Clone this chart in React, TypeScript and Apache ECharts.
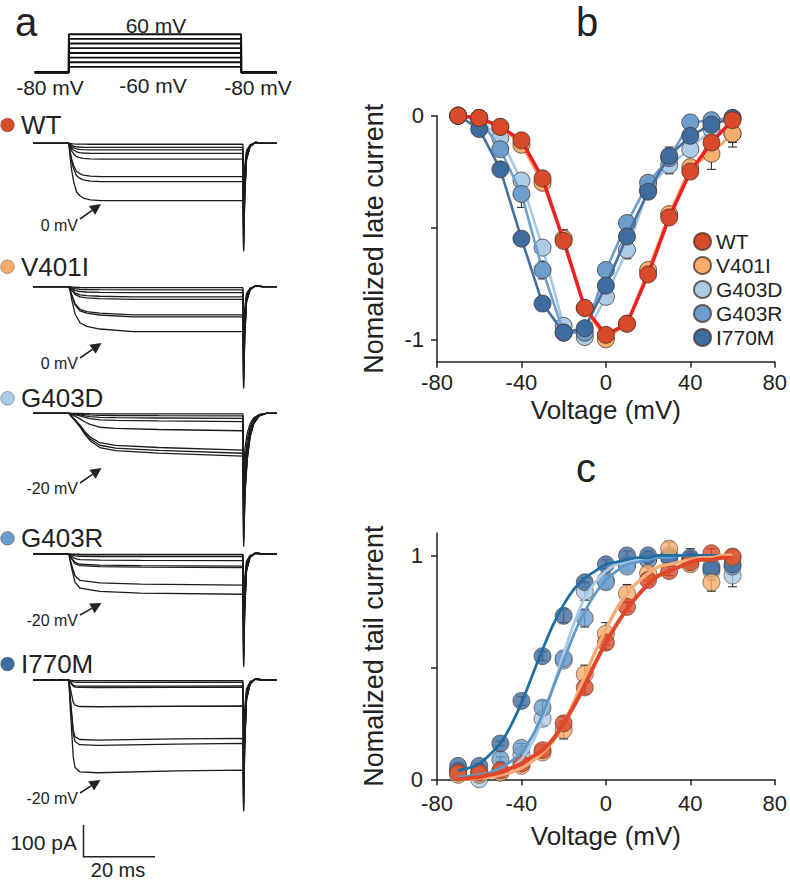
import React, { useEffect, useRef } from 'react';
import * as echarts from 'echarts';

const FONT = 'Liberation Sans, Arial, Helvetica, sans-serif';
const INK = '#222';

// ---------- panel b / c data ----------
const VOLTAGES = [-70, -60, -50, -40, -30, -20, -10, 0, 10, 20, 30, 40, 50, 60];
const NAMES = ['WT', 'V401I', 'G403D', 'G403R', 'I770M'];

const LATE_WT = [0, -0.01, -0.05, -0.11, -0.28, -0.56, -0.86, -0.98, -0.93, -0.71, -0.455, -0.25, -0.12, -0.02];
const LATE_V401I = [0, -0.01, -0.05, -0.13, -0.3, -0.55, -0.86, -1.0, -0.93, -0.69, -0.44, -0.23, -0.17, -0.08];
const LATE_G403D = [0, -0.02, -0.1, -0.29, -0.59, -0.94, -0.99, -0.81, -0.6, -0.33, -0.22, -0.15, -0.06, -0.08];
const LATE_G403R = [0, -0.01, -0.15, -0.35, -0.69, -0.97, -0.97, -0.69, -0.48, -0.3, -0.19, -0.03, -0.02, -0.01];
const LATE_I770M = [0, -0.06, -0.24, -0.55, -0.84, -0.97, -0.95, -0.76, -0.54, -0.34, -0.18, -0.09, -0.04, -0.01];

const LATE_ERR_WT = [0, 0.01, 0.03, 0.02, 0.03, 0.03, 0.03, 0.02, 0.02, 0.02, 0.03, 0.03, 0.03, 0.03];
const LATE_ERR_V401I = [0, 0.01, 0.02, 0.02, 0.03, 0.04, 0.03, 0.02, 0.02, 0.02, 0.03, 0.03, 0.07, 0.04];
const LATE_ERR_G403D = [0, 0.01, 0.03, 0.03, 0.03, 0.03, 0.02, 0.03, 0.04, 0.04, 0.04, 0.03, 0.02, 0.06];
const LATE_ERR_G403R = [0, 0.01, 0.03, 0.06, 0.04, 0.02, 0.02, 0.03, 0.03, 0.03, 0.03, 0.02, 0.02, 0.02];
const LATE_ERR_I770M = [0, 0.01, 0.03, 0.03, 0.03, 0.02, 0.02, 0.03, 0.03, 0.03, 0.04, 0.03, 0.02, 0.02];

const TAIL_WT = [0.03, 0.03, 0.04, 0.07, 0.13, 0.25, 0.41, 0.61, 0.77, 0.89, 0.93, 0.97, 1.01, 0.995];
const TAIL_V401I = [0.02, 0.02, 0.03, 0.06, 0.12, 0.22, 0.47, 0.65, 0.83, 0.92, 1.03, 0.96, 0.88, 0.99];
const TAIL_G403D = [0.03, 0.0, 0.03, 0.11, 0.27, 0.53, 0.84, 0.89, 0.96, 0.98, 0.99, 0.98, 0.93, 0.91];
const TAIL_G403R = [0.04, 0.03, 0.09, 0.14, 0.32, 0.54, 0.72, 0.88, 0.95, 0.98, 1.0, 0.98, 0.95, 0.95];
const TAIL_I770M = [0.06, 0.06, 0.16, 0.35, 0.55, 0.73, 0.88, 0.96, 1.0, 1.0, 0.99, 0.99, 0.94, 0.96];

const TAIL_ERR_WT = [0.01, 0.01, 0.01, 0.01, 0.02, 0.03, 0.03, 0.03, 0.02, 0.02, 0.02, 0.02, 0.02, 0.03];
const TAIL_ERR_V401I = [0.01, 0.01, 0.01, 0.01, 0.02, 0.04, 0.04, 0.05, 0.04, 0.03, 0.03, 0.03, 0.04, 0.03];
const TAIL_ERR_G403D = [0.01, 0.01, 0.01, 0.02, 0.03, 0.03, 0.04, 0.03, 0.02, 0.02, 0.02, 0.02, 0.04, 0.05];
const TAIL_ERR_G403R = [0.01, 0.01, 0.01, 0.02, 0.03, 0.03, 0.04, 0.03, 0.02, 0.02, 0.02, 0.02, 0.03, 0.03];
const TAIL_ERR_I770M = [0.01, 0.01, 0.01, 0.02, 0.02, 0.03, 0.02, 0.02, 0.02, 0.02, 0.02, 0.04, 0.03, 0.03];

const FIT_V = [-70, -65, -60, -55, -50, -45, -40, -35, -30, -25, -20, -15, -10, -5, 0, 5, 10, 15, 20, 25, 30, 35, 40, 45, 50, 55, 60];
const FIT_WT = [0.0, 0.005, 0.01, 0.02, 0.03, 0.05, 0.07, 0.1, 0.13, 0.18, 0.25, 0.33, 0.42, 0.52, 0.61, 0.69, 0.76, 0.82, 0.87, 0.91, 0.93, 0.95, 0.97, 0.98, 0.98, 0.99, 0.99];
const FIT_V401I = [0.0, 0.0, 0.005, 0.01, 0.02, 0.03, 0.05, 0.08, 0.12, 0.17, 0.25, 0.35, 0.46, 0.57, 0.67, 0.76, 0.83, 0.88, 0.92, 0.95, 0.96, 0.97, 0.98, 0.99, 0.99, 1.0, 1.0];
const FIT_G403D = [0.0, 0.005, 0.01, 0.02, 0.03, 0.05, 0.09, 0.16, 0.27, 0.41, 0.56, 0.7, 0.81, 0.88, 0.93, 0.96, 0.97, 0.98, 0.99, 0.99, 1.0, 1.0, 1.0, 1.0, 1.0, 1.0, 1.0];
const FIT_G403R = [0.01, 0.015, 0.02, 0.03, 0.05, 0.08, 0.12, 0.19, 0.29, 0.41, 0.53, 0.65, 0.75, 0.83, 0.89, 0.93, 0.96, 0.97, 0.98, 0.99, 0.99, 1.0, 1.0, 1.0, 1.0, 1.0, 1.0];
const FIT_I770M = [0.04, 0.05, 0.07, 0.11, 0.16, 0.24, 0.34, 0.46, 0.58, 0.69, 0.78, 0.85, 0.9, 0.93, 0.96, 0.97, 0.98, 0.99, 0.99, 1.0, 1.0, 1.0, 1.0, 1.0, 1.0, 1.0, 1.0];

const X_TICKS = [-80, -40, 0, 40, 80];
const LATE_TICKS = [-1, -0.5, 0];
const LATE_LABELS = [-1, 0];
const TAIL_TICKS = [0, 0.5, 1];
const TAIL_LABELS = [0, 1];

// ---------- panel a data ----------
const PROTOCOL_LEVELS = [60, 43, 26, 9, -9, -26, -43, -60];
const HOLDING = -80;
const PULSE_START = 0;
const PROTOCOL_END = 48;
const PULSE_END = 48.5;
const T_MIN = -10;
const T_MAX = 58;

const WT_LEVELS = [-3, -13, -21, -32, -50, -105, -121, -181];
const V401I_LEVELS = [-3, -10, -19, -32, -40, -89, -95, -142];
const G403D_LEVELS = [-2, -8, -16, -26, -55, -116, -126, -135];
const G403R_LEVELS = [-1, -3, -8.5, -21, -38, -43, -98, -127];
const I770M_LEVELS = [-2, -7, -19, -23, -82, -184, -200, -284];

const WT_TAILS = [-150, -200, -240, -270, -300, -320, -335, -341];
const V401I_TAILS = [-140, -190, -230, -260, -285, -300, -315, -321];
const G403D_TAILS = [-180, -240, -290, -330, -370, -395, -410, -421];
const G403R_TAILS = [-150, -200, -250, -290, -320, -335, -350, -356];
const I770M_TAILS = [-180, -240, -290, -330, -370, -395, -410, -415];

// activation time course [ms, fraction of late level]
const WT_ONSET = [[0.3, 0.22], [0.75, 0.46], [1.3, 0.66], [2.1, 0.84], [3, 0.91], [4, 0.955], [6, 0.985], [9, 1], [30, 1]];
const V401I_ONSET = [[0.4, 0.12], [0.75, 0.27], [1.7, 0.6], [3.1, 0.8], [5, 0.88], [8.6, 0.94], [18, 1]];
const G403D_ONSET = [[0.75, 0.08], [1.8, 0.18], [3.1, 0.32], [4.5, 0.5], [5.9, 0.64], [8.6, 0.8], [13, 0.87], [25, 0.93]];
const G403R_ONSET = [[0.3, 0.15], [0.75, 0.35], [1.7, 0.7], [3.1, 0.85], [8.6, 0.93], [20, 0.97]];
const I770M_ONSET = [[0.3, 0.25], [0.75, 0.55], [1.2, 0.85], [1.7, 0.97], [3, 1.02], [8, 1.03], [30, 1.01]];

// tail current time course [ms, fraction of tail peak]
const FAST_TAIL = [[48.7, 1], [49.0, 0.5], [49.5, 0.15], [50.5, 0.03], [52, -0.01], [54, 0]];
const SLOW_TAIL = [[48.7, 1], [49.1, 0.6], [49.7, 0.35], [50.5, 0.18], [51.5, 0.08], [53, 0.02], [55, 0]];

const COLORS: Record<string, string> = {
  WT: '#d94a2b',
  V401I: '#f7ad6c',
  G403D: '#abcbe6',
  G403R: '#6b9ecd',
  I770M: '#3e6c9e',
};
const LATE_LINE: Record<string, string> = {
  WT: '#ee2024',
  V401I: '#f5a766',
  G403D: '#a6c8e6',
  G403R: '#6f9fcc',
  I770M: '#4670a0',
};
const FIT_LINE: Record<string, string> = {
  WT: '#e0462a',
  V401I: '#f6ad75',
  G403D: '#a9cbe7',
  G403R: '#5f98c9',
  I770M: '#1f6ea3',
};

function makeTrace(level: number, peak: number, onset: number[][], tail: number[][]) {
  const pts: number[][] = [[T_MIN, 0], [PULSE_START, 0]];
  onset.forEach(([t, f]) => pts.push([t, level * f]));
  pts.push([PULSE_END, level]);
  tail.forEach(([t, f]) => pts.push([t, peak * f]));
  pts.push([T_MAX, 0]);
  return pts;
}

const PA_PX = 0.317; // px per pA
const TRACE_GROUPS = [
  { name: 'WT', baseline: 143.3, levels: WT_LEVELS, tails: WT_TAILS, onset: WT_ONSET, tail: FAST_TAIL, label: '0 mV', labelY: 225, tip: [101, 204], from: [80, 219], nameY: 125 },
  { name: 'V401I', baseline: 286.7, levels: V401I_LEVELS, tails: V401I_TAILS, onset: V401I_ONSET, tail: FAST_TAIL, label: '0 mV', labelY: 363, tip: [101.5, 343], from: [80, 358], nameY: 266.7 },
  { name: 'G403D', baseline: 413.3, levels: G403D_LEVELS, tails: G403D_TAILS, onset: G403D_ONSET, tail: SLOW_TAIL, label: '-20 mV', labelY: 488, tip: [101.5, 468], from: [80, 483], nameY: 398.3 },
  { name: 'G403R', baseline: 554, levels: G403R_LEVELS, tails: G403R_TAILS, onset: G403R_ONSET, tail: FAST_TAIL, label: '-20 mV', labelY: 620, tip: [101.5, 603], from: [80, 615], nameY: 538.3 },
  { name: 'I770M', baseline: 680, levels: I770M_LEVELS, tails: I770M_TAILS, onset: I770M_ONSET, tail: FAST_TAIL, label: '-20 mV', labelY: 798, tip: [100.5, 780], from: [80, 793], nameY: 664 },
];

function arrow(from: number[], tip: number[]) {
  const dx = tip[0] - from[0];
  const dy = tip[1] - from[1];
  const len = Math.sqrt(dx * dx + dy * dy);
  const ux = dx / len, uy = dy / len;
  const nx = -uy, ny = ux;
  const hl = 11, hw = 5.5;
  const bx = tip[0] - ux * hl, by = tip[1] - uy * hl;
  return [
    { type: 'line', shape: { x1: from[0], y1: from[1], x2: bx, y2: by }, style: { stroke: INK, lineWidth: 1.6 } },
    { type: 'polygon', shape: { points: [tip, [bx + nx * hw, by + ny * hw], [bx - nx * hw, by - ny * hw]] }, style: { fill: INK } },
  ];
}

function txt(text: string, x: number, y: number, size: number, align = 'left', extra: any = {}) {
  return {
    type: 'text', x, y,
    style: { text, fontSize: size, fontFamily: FONT, fill: INK, align, textAlign: align, verticalAlign: 'middle', textVerticalAlign: 'middle', ...extra },
  };
}

const errRender = (params: any, api: any) => {
  const x = api.value(0), y = api.value(1), e = api.value(2);
  if (!e) return null;
  const a = api.coord([x, y + e]);
  const b = api.coord([x, y - e]);
  const hw = 4.5;
  const st = { stroke: '#333', lineWidth: 1.1 };
  return {
    type: 'group',
    children: [
      { type: 'line', shape: { x1: a[0], y1: a[1], x2: b[0], y2: b[1] }, style: st },
      { type: 'line', shape: { x1: a[0] - hw, y1: a[1], x2: a[0] + hw, y2: a[1] }, style: st },
      { type: 'line', shape: { x1: b[0] - hw, y1: b[1], x2: b[0] + hw, y2: b[1] }, style: st },
    ],
  };
};

function buildOption() {
  const grid: any[] = [];
  const xAxis: any[] = [];
  const yAxis: any[] = [];
  const series: any[] = [];
  const hiddenAxis = { show: false };

  // protocol grid (index 0): -80 mV at y 72.3, 0.2714 px per mV
  const mvPx = 0.2714;
  grid.push({ left: 33, top: 72.3 - 150 * mvPx, width: 244, height: 160 * mvPx });
  xAxis.push({ type: 'value', gridIndex: 0, min: T_MIN, max: T_MAX, ...hiddenAxis });
  yAxis.push({ type: 'value', gridIndex: 0, min: -90, max: 70, ...hiddenAxis });
  PROTOCOL_LEVELS.forEach((lv) => {
    series.push({
      type: 'line', xAxisIndex: 0, yAxisIndex: 0, symbol: 'none', clip: false, silent: true,
      lineStyle: { color: '#111', width: 1.9 },
      data: [[T_MIN + 0.5, HOLDING], [PULSE_START, HOLDING], [PULSE_START, lv], [PROTOCOL_END, lv], [PROTOCOL_END, HOLDING], [T_MAX, HOLDING]],
      z: 2,
    });
  });

  // trace grids (1..5)
  TRACE_GROUPS.forEach((g, gi) => {
    const idx = gi + 1;
    grid.push({ left: 33, top: g.baseline - 40 * PA_PX, width: 244, height: 480 * PA_PX });
    xAxis.push({ type: 'value', gridIndex: idx, min: T_MIN, max: T_MAX, ...hiddenAxis });
    yAxis.push({ type: 'value', gridIndex: idx, min: -440, max: 40, ...hiddenAxis });
    g.levels.forEach((lv, k) => {
      series.push({
        type: 'line', xAxisIndex: idx, yAxisIndex: idx, symbol: 'none', clip: false, silent: true,
        lineStyle: { color: '#1c1c1c', width: 1.3 },
        data: makeTrace(lv, g.tails[k], g.onset, g.tail),
      });
    });
  });

  // panel b (6) and c (7)
  const axisCommon = {
    axisLine: { onZero: false, lineStyle: { color: INK, width: 1.5 } },
    axisTick: { inside: false, length: 6, lineStyle: { color: INK, width: 1.5 } },
    splitLine: { show: false },
  };
  grid.push({ left: 437, top: 115.7, width: 341, height: 246 });
  grid.push({ left: 437, top: 533, width: 341, height: 246.3 });
  [6, 7].forEach((gi) => {
    xAxis.push({
      type: 'value', gridIndex: gi, min: -80, max: 80, interval: 40, ...axisCommon,
      axisLabel: { fontSize: 22, color: INK, fontFamily: FONT, margin: gi === 6 ? 10 : 13, customValues: X_TICKS },
      axisTick: { ...axisCommon.axisTick, customValues: X_TICKS },
      name: 'Voltage (mV)', nameLocation: 'middle', nameGap: gi === 6 ? 35 : 44,
      nameTextStyle: { fontSize: 26, color: INK, fontFamily: FONT },
    });
  });
  yAxis.push({
    type: 'value', gridIndex: 6, min: -1.1, max: 0, ...axisCommon,
    axisTick: { ...axisCommon.axisTick, customValues: LATE_TICKS },
    axisLabel: { fontSize: 22, color: INK, fontFamily: FONT, margin: 13, customValues: LATE_LABELS },
    name: 'Nomalized late current', nameLocation: 'middle', nameGap: 50, nameRotate: 90,
    nameTextStyle: { fontSize: 27, color: INK, fontFamily: FONT },
  });
  yAxis.push({
    type: 'value', gridIndex: 7, min: 0, max: 1.1, ...axisCommon,
    axisTick: { ...axisCommon.axisTick, customValues: TAIL_TICKS },
    axisLabel: { fontSize: 22, color: INK, fontFamily: FONT, margin: 14, customValues: TAIL_LABELS },
    name: 'Nomalized tail current', nameLocation: 'middle', nameGap: 50, nameRotate: 90,
    nameTextStyle: { fontSize: 27, color: INK, fontFamily: FONT },
  });

  const late: Record<string, number[]> = { WT: LATE_WT, V401I: LATE_V401I, G403D: LATE_G403D, G403R: LATE_G403R, I770M: LATE_I770M };
  const lateErr: Record<string, number[]> = { WT: LATE_ERR_WT, V401I: LATE_ERR_V401I, G403D: LATE_ERR_G403D, G403R: LATE_ERR_G403R, I770M: LATE_ERR_I770M };
  const tail: Record<string, number[]> = { WT: TAIL_WT, V401I: TAIL_V401I, G403D: TAIL_G403D, G403R: TAIL_G403R, I770M: TAIL_I770M };
  const tailErr: Record<string, number[]> = { WT: TAIL_ERR_WT, V401I: TAIL_ERR_V401I, G403D: TAIL_ERR_G403D, G403R: TAIL_ERR_G403R, I770M: TAIL_ERR_I770M };
  const fit: Record<string, number[]> = { WT: FIT_WT, V401I: FIT_V401I, G403D: FIT_G403D, G403R: FIT_G403R, I770M: FIT_I770M };

  const drawOrder = ['G403D', 'G403R', 'I770M', 'V401I', 'WT'];
  const marker = (n: string) => ({ color: COLORS[n], borderColor: 'rgba(70,50,40,0.75)', borderWidth: 1 });

  drawOrder.forEach((n, i) => {
    series.push({
      type: 'custom', xAxisIndex: 6, yAxisIndex: 6, renderItem: errRender, silent: true, clip: false,
      data: VOLTAGES.map((v, k) => [v, late[n][k], lateErr[n][k]]), encode: { x: 0, y: 1 }, z: 2 + i * 0.1,
    });
  });
  drawOrder.forEach((n, i) => {
    series.push({
      name: n, type: 'line', xAxisIndex: 6, yAxisIndex: 6, clip: false,
      symbol: 'circle', symbolSize: 17,
      itemStyle: marker(n),
      lineStyle: { color: LATE_LINE[n], width: n === 'WT' ? 3.5 : 2.6 },
      data: VOLTAGES.map((v, k) => [v, late[n][k]]),
      z: 3 + i * 0.1,
    });
  });

  // panel c
  drawOrder.forEach((n, i) => {
    series.push({
      type: 'custom', xAxisIndex: 7, yAxisIndex: 7, renderItem: errRender, silent: true, clip: false,
      data: VOLTAGES.map((v, k) => [v, tail[n][k], tailErr[n][k]]), encode: { x: 0, y: 1 }, z: 2 + i * 0.1,
    });
  });
  drawOrder.forEach((n, i) => {
    series.push({
      name: n, type: 'scatter', xAxisIndex: 7, yAxisIndex: 7, clip: false,
      symbol: 'circle', symbolSize: 17, itemStyle: marker(n),
      data: VOLTAGES.map((v, k) => [v, tail[n][k]]),
      z: 3 + i * 0.1,
    });
  });
  drawOrder.forEach((n, i) => {
    series.push({
      name: n + ' fit', type: 'line', xAxisIndex: 7, yAxisIndex: 7, clip: false, smooth: 0.3,
      symbol: 'none', silent: true,
      lineStyle: { color: FIT_LINE[n], width: n === 'WT' ? 4 : n === 'V401I' ? 3.4 : 2.8 },
      data: FIT_V.map((v, k) => [v, fit[n][k]]),
      z: 4 + i * 0.1,
    });
  });

  // graphics
  const graphic: any[] = [];
  graphic.push(txt('a', 15, 21.5, 40));
  graphic.push(txt('b', 576, 22, 40));
  graphic.push(txt('c', 576, 468, 40));
  graphic.push(txt('60 mV', 156, 25, 21, 'center'));
  graphic.push(txt('-80 mV', 50, 87.5, 21, 'center'));
  graphic.push(txt('-60 mV', 153, 85.5, 21, 'center'));
  graphic.push(txt('-80 mV', 258, 87.5, 21, 'center'));
  TRACE_GROUPS.forEach((g) => {
    graphic.push({ type: 'circle', shape: { cx: 7.5, cy: g.nameY, r: 6.8 }, style: { fill: COLORS[g.name], stroke: 'rgba(70,50,40,0.5)', lineWidth: 0.8 } });
    graphic.push(txt(g.name, 21, g.nameY, 26));
    graphic.push(txt(g.label, 78, g.labelY, 16, 'right'));
    arrow(g.from, g.tip).forEach((e) => graphic.push(e));
  });
  // scale bar
  graphic.push({ type: 'polyline', shape: { points: [[83.5, 825], [83.5, 856.7], [155, 856.7]] }, style: { stroke: INK, lineWidth: 1.5, fill: 'none' } });
  graphic.push(txt('100 pA', 77, 842, 21, 'right'));
  graphic.push(txt('20 ms', 118, 869.5, 20, 'center'));

  return {
    animation: false,
    backgroundColor: '#fff',
    textStyle: { fontFamily: FONT },
    grid,
    xAxis,
    yAxis,
    series,
    graphic,
    legend: {
      data: NAMES, orient: 'vertical', left: 693, top: 231, icon: 'circle',
      itemWidth: 17, itemHeight: 17, itemGap: 3, selectedMode: false, padding: 0,
      textStyle: { fontSize: 21, color: INK, fontFamily: FONT, lineHeight: 21 },
    },
  };
}

export default function App() {
  const ref = useRef<HTMLDivElement>(null);
  useEffect(() => {
    if (!ref.current) return;
    const chart = echarts.init(ref.current, null, { renderer: 'svg' });
    chart.setOption(buildOption() as any);
    return () => chart.dispose();
  }, []);
  return (
    <div
      ref={ref}
      style={{ position: 'fixed', left: 0, top: 0, width: 790, height: 881, background: '#fff' }}
    />
  );
}
